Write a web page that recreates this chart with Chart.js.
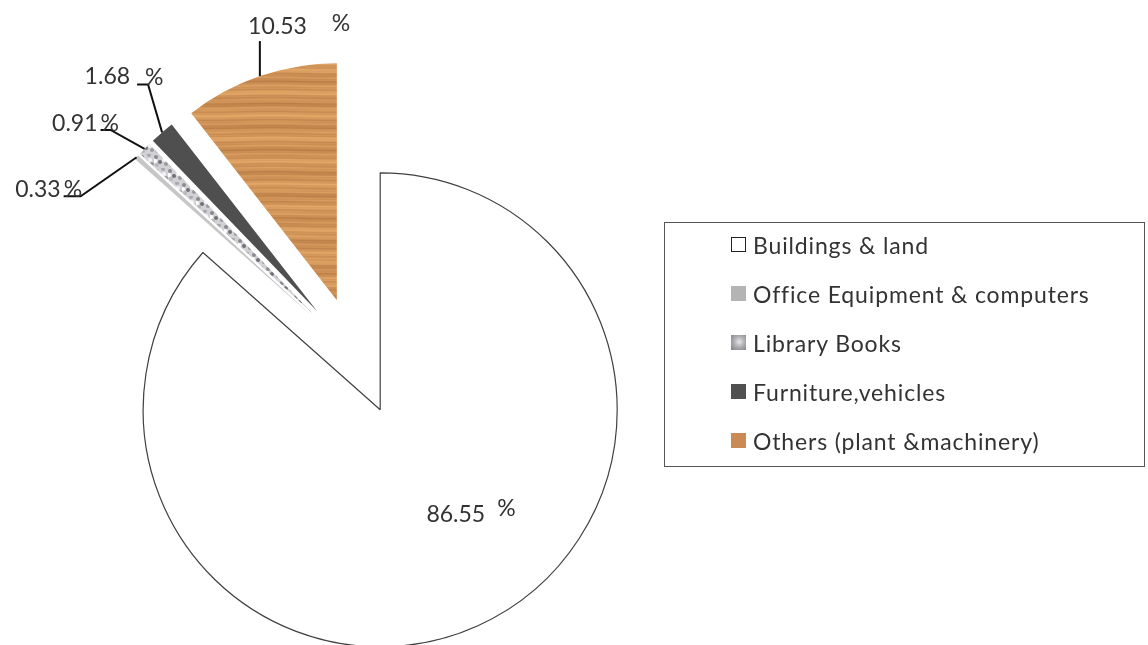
<!DOCTYPE html>
<html>
<head>
<meta charset="utf-8">
<script src="https://cdn.jsdelivr.net/npm/chart.js@4.4.1/dist/chart.umd.min.js"></script>
<style>
  body { margin: 0; background: #fff; font-family: Lato, "Open Sans", sans-serif; }
  #wrap { position: relative; width: 1148px; height: 645px; overflow: hidden; }
  #pie { position: absolute; left: 0; top: 0; }
  #legend {
    position: absolute; left: 664px; top: 222px; width: 481px; height: 245px;
    border: 1px solid #555; box-sizing: border-box; margin: 0; padding: 0 0 0 66px;
    list-style: none; color: #333; font-size: 23px; letter-spacing: 0.85px;
  }
  #legend li { height: 49px; display: flex; align-items: center; position: relative; top: -3px; }
  #legend .box { width: 15px; height: 15px; margin-right: 7px; box-sizing: border-box; flex: none; }
</style>
</head>
<body>
<div id="wrap">
  <canvas id="pie" width="1148" height="645"></canvas>
  <ul id="legend"></ul>
</div>
<script>
// Data
const categories = ["Buildings & land", "Office Equipment & computers", "Library Books", "Furniture,vehicles", "Others (plant &machinery)"];
const shares = [86.55, 0.33, 0.91, 1.68, 10.53];

// every slice pulled out of the centre by this many px
const EXPLODE = 59;

// textures
function woodPattern(ctx) {
  const c = document.createElement("canvas");
  c.width = 120; c.height = 260;
  const g = c.getContext("2d");
  for (let y = 0; y < c.height; y++) {
    for (let x = 0; x < c.width; x += 3) {
      const w = Math.sin(x * Math.PI * 2 / 120);
      const v = Math.sin(y * 0.83 + w * 0.5) * 9 + Math.sin(y * 0.27 + 2) * 8 + Math.sin(y * 2.3 + w * 0.8) * 5 - 2;
      g.fillStyle = "rgb(" + ((210 + v) | 0) + "," + ((150 + v * 1.0) | 0) + "," + ((90 + v * 0.8) | 0) + ")";
      g.fillRect(x, y, 3, 1);
    }
  }
  return ctx.createPattern(c, "repeat");
}

function booksPattern(ctx) {
  const c = document.createElement("canvas");
  c.width = 14; c.height = 14;
  const g = c.getContext("2d");
  g.fillStyle = "#d2d2d6";
  g.fillRect(0, 0, 14, 14);
  const spots = [[2, 3, "#8a8a90"], [9, 1, "#a8a8ad"], [6, 8, "#707076"], [12, 10, "#9a9aa0"],
                 [3, 11, "#b8b8bc"], [10, 6, "#f2f2f2"], [1, 7, "#ffffff"]];
  spots.forEach(s => {
    g.fillStyle = s[2];
    g.beginPath();
    g.arc(s[0], s[1], 2, 0, Math.PI * 2);
    g.fill();
  });
  return ctx.createPattern(c, "repeat");
}

const ctx = document.getElementById("pie").getContext("2d");
const sliceColors = ["#ffffff", "#c6c6c6", booksPattern(ctx), "#4f4f4f", woodPattern(ctx)];
const legendSwatches = [
  "background:#fff;border:1px solid #222",
  "background:#b4b4b4",
  "background:radial-gradient(circle at 55% 45%, #e6e6e8 0, #b0b0b4 45%, #7d7d82 100%)",
  "background:#505050",
  "background:#c98a55"
];

// legend
const legendEl = document.getElementById("legend");
categories.forEach((name, i) => {
  const li = document.createElement("li");
  li.innerHTML = '<span class="box" style="' + legendSwatches[i] + '"></span>' + name;
  legendEl.appendChild(li);
});

// label layout (relative to the slice's outer edge at mid angle)
const labelLayout = [
  { inside: true, num: [105, 112], gap: 12, rise: 6 },
  { elbow: [-56, 39], tail: [-73, 39], num: [-76, 40], gap: 3, rise: 0 },
  { elbow: [-34, -19], tail: [-44, -19], num: [-47, -18], gap: 3, rise: 0 },
  { elbow: [-14, -48], tail: [-25, -48], num: [-32, -48], gap: 15, rise: -1 },
  { elbow: [0, -35], num: [47, -42], gap: 25, rise: 3 }
];

const explodePlugin = {
  id: "explode",
  afterDatasetsUpdate(chart) {
    chart.getDatasetMeta(0).data.forEach(arc => {
      const mid = (arc.startAngle + arc.endAngle) / 2;
      arc.x += Math.cos(mid) * EXPLODE;
      arc.y += Math.sin(mid) * EXPLODE;
    });
  }
};

const labelPlugin = {
  id: "sliceLabels",
  afterDatasetsDraw(chart) {
    const c = chart.ctx;
    c.save();
    c.font = "23px Lato";
    c.fillStyle = "#333";
    c.strokeStyle = "#111";
    c.lineWidth = 2;
    c.textBaseline = "alphabetic";
    chart.getDatasetMeta(0).data.forEach((arc, i) => {
      const L = labelLayout[i];
      const mid = (arc.startAngle + arc.endAngle) / 2;
      let ax, ay;
      if (L.inside) {
        ax = arc.x; ay = arc.y;
      } else {
        ax = arc.x + Math.cos(mid) * arc.outerRadius;
        ay = arc.y + Math.sin(mid) * arc.outerRadius;
        c.beginPath();
        c.moveTo(ax, ay);
        c.lineTo(ax + L.elbow[0], ay + L.elbow[1]);
        if (L.tail) c.lineTo(ax + L.tail[0], ay + L.tail[1]);
        c.stroke();
      }
      const nx = ax + L.num[0], ny = ay + L.num[1];
      c.textAlign = "right";
      c.fillText(shares[i].toFixed(2), nx, ny);
      c.textAlign = "left";
      c.fillText("%", nx + L.gap, ny - L.rise);
    });
    c.restore();
  }
};

new Chart(ctx, {
  type: "pie",
  data: {
    labels: categories,
    datasets: [{
      data: shares,
      backgroundColor: sliceColors,
      borderColor: "#404040",
      borderWidth: [1.2, 0, 0, 0, 0],
      radius: 237,
      clip: false
    }]
  },
  options: {
    responsive: false,
    animation: false,
    events: [],
    layout: { padding: { left: 0, right: 436, top: 67, bottom: 0 } },
    plugins: { legend: { display: false }, tooltip: { enabled: false } }
  },
  plugins: [explodePlugin, labelPlugin]
});
</script>
</body>
</html>
